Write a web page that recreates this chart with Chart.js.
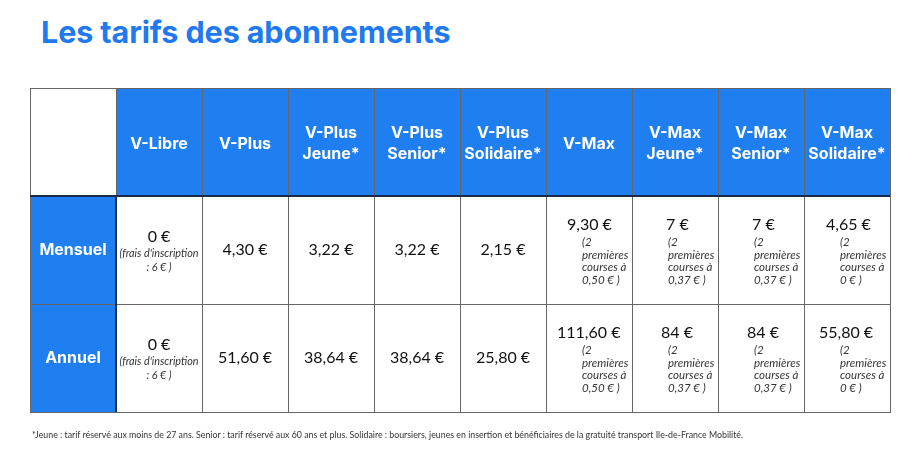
<!DOCTYPE html>
<html><head><meta charset="utf-8">
<script src="https://cdn.jsdelivr.net/npm/chart.js@4"></script>
<style>html,body{margin:0;padding:0;background:#fff}#w{position:relative;width:924px;height:451px}
h1{position:absolute;left:41px;top:13px;margin:0;font:700 30.5px Inter,Roboto,sans-serif;color:#2079f0;letter-spacing:-0.1px}
#f{position:absolute;left:32px;top:429px;font:8.8px Lato,sans-serif;color:#333}
canvas{position:absolute;left:0;top:0}</style></head>
<body><div id="w"><h1>Les tarifs des abonnements</h1>
<canvas id="c" width="924" height="451"></canvas>
<div id="f">*Jeune : tarif réservé aux moins de 27 ans. Senior : tarif réservé aux 60 ans et plus. Solidaire : boursiers, jeunes en insertion et bénéficiaires de la gratuité transport Ile-de-France Mobilité.</div></div>
<script>
const columns=['','V-Libre','V-Plus','V-Plus\nJeune*','V-Plus\nSenior*','V-Plus\nSolidaire*','V-Max','V-Max\nJeune*','V-Max\nSenior*','V-Max\nSolidaire*'];
const rows=['head','Mensuel','Annuel'];
const mensuel=['0 €','4,30 €','3,22 €','3,22 €','2,15 €','9,30 €','7 €','7 €','4,65 €'];
const annuel=['0 €','51,60 €','38,64 €','38,64 €','25,80 €','111,60 €','84 €','84 €','55,80 €'];
const notesLibre=['(frais d\'inscription',': 6 € )'];
const notesMax=['0,50 € )','0,37 € )','0,37 € )','0 € )'];
const BLUE='#1f7ff0';
const priceOff=[[21,34,34,22],[11,29,29,15]];
const tablePlugin={id:'table',afterDraw(ch){
 const c=ch.ctx,x=ch.scales.x,y=ch.scales.y;
 const cw=(x.getPixelForValue(1)-x.getPixelForValue(0)), rh=(y.getPixelForValue(1)-y.getPixelForValue(0));
 const cell=(i,j)=>{const cx=x.getPixelForValue(i),cy=y.getPixelForValue(j);return [cx-cw/2,cy-rh/2,cw,rh,cx,cy];};
 c.save();
 for(let j=0;j<rows.length;j++)for(let i=0;i<columns.length;i++){
  const [l,t,w,h,cx,cy]=cell(i,j);
  const blue=(j===0&&i>0)||(i===0&&j>0);
  c.fillStyle=blue?BLUE:'#fff';c.fillRect(l,t,w,h);
  c.strokeStyle='#666';c.lineWidth=1;c.strokeRect(Math.round(l)+0.5,Math.round(t)+0.5,w,h);
  c.textAlign='center';c.textBaseline='middle';
  if(j===0&&i>0){c.fillStyle='#fff';c.font='700 16px Inter,Roboto,sans-serif';
   const ls=columns[i].split('\n');ls.forEach((s,k)=>c.fillText(s,cx,cy+(k-(ls.length-1)/2)*21+2));}
  if(i===0&&j>0){c.fillStyle='#fff';c.font='700 16px Inter,Roboto,sans-serif';c.fillText(rows[j],cx,cy);}
  if(i>0&&j>0){const v=(j===1?mensuel:annuel)[i-1];c.fillStyle='#111';
   if(i===1){c.font='16px Lato,sans-serif';c.fillText(v,cx,cy-13);c.font='italic 10.8px Lato,sans-serif';c.fillStyle='#333';c.fillText(notesLibre[0],cx,cy+4);c.fillText(notesLibre[1],cx,cy+18);}
   else if(i<6){c.font='16px Lato,sans-serif';c.fillText(v,cx,cy);}
   else{c.textAlign='left';c.font='16px Lato,sans-serif';c.fillText(v,l+priceOff[j-1][i-6],cy-25);
    c.font='italic 11.5px Lato,sans-serif';c.fillStyle='#333';const nx=l+36;
    ['(2','premières','courses à',notesMax[i-6]].forEach((s,k)=>c.fillText(s,nx,cy-8+k*12.8));}
  }
 }
 const [l0,t0,w0,h0]=cell(0,1);
 c.strokeStyle='#1c2a4a';c.lineWidth=2;c.beginPath();c.moveTo(ch.chartArea.left,t0);c.lineTo(ch.chartArea.right,t0);c.stroke();
 c.beginPath();c.moveTo(l0+w0,ch.chartArea.top+rh);c.lineTo(l0+w0,ch.chartArea.bottom);c.stroke();
 c.restore();
}};
new Chart(document.getElementById('c'),{type:'bar',
 data:{labels:columns,datasets:[{data:[]}]},
 options:{responsive:false,animation:false,events:[],
  layout:{padding:{left:30,right:34,top:88,bottom:39}},
  plugins:{legend:{display:false},tooltip:{enabled:false}},
  scales:{x:{display:false,type:'category',offset:true},y:{display:false,type:'category',labels:rows,offset:true}}},
 plugins:[tablePlugin]});
</script></body></html>
